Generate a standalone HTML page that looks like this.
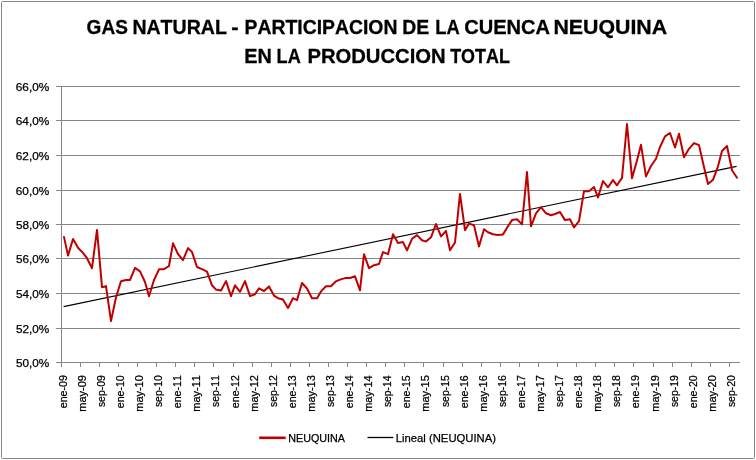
<!DOCTYPE html>
<html lang="es"><head><meta charset="utf-8"><title>GAS NATURAL - PARTICIPACION DE LA CUENCA NEUQUINA</title>
<style>
html,body{margin:0;padding:0;background:#fff;}
svg{display:block;font-family:"Liberation Sans",sans-serif;font-kerning:none;}
.t{font-weight:bold;font-size:20.8px;fill:#000;stroke:#000;stroke-width:0.3px;}
.l{font-size:11.3px;fill:#000;stroke:#000;stroke-width:0.25px;}
</style></head><body>
<svg width="756" height="460" viewBox="0 0 756 460">
<rect x="0" y="0" width="756" height="460" fill="#fff"/>
<rect x="1.5" y="1.5" width="753" height="457" rx="1" fill="none" stroke="#868686" stroke-width="1"/>
<text class="t" y="33.8"><tspan x="86.62" textLength="41.22" lengthAdjust="spacingAndGlyphs">GAS</tspan> <tspan x="132.39" textLength="94.51" lengthAdjust="spacingAndGlyphs">NATURAL</tspan> <tspan x="231.24" textLength="7.34" lengthAdjust="spacingAndGlyphs">-</tspan> <tspan x="244.50" textLength="152.90" lengthAdjust="spacingAndGlyphs">PARTICIPACION</tspan> <tspan x="402.20" textLength="26.96" lengthAdjust="spacingAndGlyphs">DE</tspan> <tspan x="435.17" textLength="24.52" lengthAdjust="spacingAndGlyphs">LA</tspan> <tspan x="464.18" textLength="85.95" lengthAdjust="spacingAndGlyphs">CUENCA</tspan> <tspan x="553.47" textLength="113.69" lengthAdjust="spacingAndGlyphs">NEUQUINA</tspan></text>
<text class="t" y="62.5"><tspan x="244.17" textLength="27.56" lengthAdjust="spacingAndGlyphs">EN</tspan> <tspan x="276.59" textLength="24.19" lengthAdjust="spacingAndGlyphs">LA</tspan> <tspan x="307.45" textLength="138.22" lengthAdjust="spacingAndGlyphs">PRODUCCION</tspan> <tspan x="450.20" textLength="59.65" lengthAdjust="spacingAndGlyphs">TOTAL</tspan></text>
<g stroke="#868686" stroke-width="1" fill="none" shape-rendering="crispEdges">
<line x1="56" y1="86.5" x2="740" y2="86.5"/>
<line x1="56" y1="120.5" x2="740" y2="120.5"/>
<line x1="56" y1="155.5" x2="740" y2="155.5"/>
<line x1="56" y1="190.5" x2="740" y2="190.5"/>
<line x1="56" y1="224.5" x2="740" y2="224.5"/>
<line x1="56" y1="258.5" x2="740" y2="258.5"/>
<line x1="56" y1="293.5" x2="740" y2="293.5"/>
<line x1="56" y1="328.5" x2="740" y2="328.5"/>
<line x1="56" y1="362.5" x2="740" y2="362.5"/>
<line x1="61.5" y1="86" x2="61.5" y2="363"/>
<line x1="61.5" y1="363" x2="61.5" y2="367"/>
<line x1="80.5" y1="363" x2="80.5" y2="367"/>
<line x1="99.5" y1="363" x2="99.5" y2="367"/>
<line x1="118.5" y1="363" x2="118.5" y2="367"/>
<line x1="137.5" y1="363" x2="137.5" y2="367"/>
<line x1="156.5" y1="363" x2="156.5" y2="367"/>
<line x1="175.5" y1="363" x2="175.5" y2="367"/>
<line x1="194.5" y1="363" x2="194.5" y2="367"/>
<line x1="213.5" y1="363" x2="213.5" y2="367"/>
<line x1="233.5" y1="363" x2="233.5" y2="367"/>
<line x1="252.5" y1="363" x2="252.5" y2="367"/>
<line x1="271.5" y1="363" x2="271.5" y2="367"/>
<line x1="290.5" y1="363" x2="290.5" y2="367"/>
<line x1="309.5" y1="363" x2="309.5" y2="367"/>
<line x1="328.5" y1="363" x2="328.5" y2="367"/>
<line x1="347.5" y1="363" x2="347.5" y2="367"/>
<line x1="366.5" y1="363" x2="366.5" y2="367"/>
<line x1="385.5" y1="363" x2="385.5" y2="367"/>
<line x1="404.5" y1="363" x2="404.5" y2="367"/>
<line x1="423.5" y1="363" x2="423.5" y2="367"/>
<line x1="443.5" y1="363" x2="443.5" y2="367"/>
<line x1="462.5" y1="363" x2="462.5" y2="367"/>
<line x1="481.5" y1="363" x2="481.5" y2="367"/>
<line x1="500.5" y1="363" x2="500.5" y2="367"/>
<line x1="519.5" y1="363" x2="519.5" y2="367"/>
<line x1="538.5" y1="363" x2="538.5" y2="367"/>
<line x1="557.5" y1="363" x2="557.5" y2="367"/>
<line x1="576.5" y1="363" x2="576.5" y2="367"/>
<line x1="595.5" y1="363" x2="595.5" y2="367"/>
<line x1="614.5" y1="363" x2="614.5" y2="367"/>
<line x1="633.5" y1="363" x2="633.5" y2="367"/>
<line x1="653.5" y1="363" x2="653.5" y2="367"/>
<line x1="672.5" y1="363" x2="672.5" y2="367"/>
<line x1="691.5" y1="363" x2="691.5" y2="367"/>
<line x1="710.5" y1="363" x2="710.5" y2="367"/>
<line x1="729.5" y1="363" x2="729.5" y2="367"/>
</g>
<text class="l" x="15.80" y="91.3" textLength="33.52" lengthAdjust="spacingAndGlyphs">66,0%</text>
<text class="l" x="15.80" y="125.3" textLength="33.52" lengthAdjust="spacingAndGlyphs">64,0%</text>
<text class="l" x="15.80" y="160.3" textLength="33.52" lengthAdjust="spacingAndGlyphs">62,0%</text>
<text class="l" x="15.80" y="195.3" textLength="33.52" lengthAdjust="spacingAndGlyphs">60,0%</text>
<text class="l" x="15.93" y="229.3" textLength="33.39" lengthAdjust="spacingAndGlyphs">58,0%</text>
<text class="l" x="15.93" y="263.3" textLength="33.39" lengthAdjust="spacingAndGlyphs">56,0%</text>
<text class="l" x="15.93" y="298.3" textLength="33.39" lengthAdjust="spacingAndGlyphs">54,0%</text>
<text class="l" x="15.93" y="333.3" textLength="33.39" lengthAdjust="spacingAndGlyphs">52,0%</text>
<text class="l" x="15.93" y="367.3" textLength="33.39" lengthAdjust="spacingAndGlyphs">50,0%</text>
<text class="l" transform="translate(67.3,408.15) rotate(-90)" textLength="32.95" lengthAdjust="spacingAndGlyphs">ene-09</text>
<text class="l" transform="translate(86.3,411.73) rotate(-90)" textLength="36.55" lengthAdjust="spacingAndGlyphs">may-09</text>
<text class="l" transform="translate(105.3,407.09) rotate(-90)" textLength="31.88" lengthAdjust="spacingAndGlyphs">sep-09</text>
<text class="l" transform="translate(124.3,408.15) rotate(-90)" textLength="32.86" lengthAdjust="spacingAndGlyphs">ene-10</text>
<text class="l" transform="translate(143.3,411.73) rotate(-90)" textLength="36.45" lengthAdjust="spacingAndGlyphs">may-10</text>
<text class="l" transform="translate(162.3,407.09) rotate(-90)" textLength="31.80" lengthAdjust="spacingAndGlyphs">sep-10</text>
<text class="l" transform="translate(181.3,408.15) rotate(-90)" textLength="32.97" lengthAdjust="spacingAndGlyphs">ene-11</text>
<text class="l" transform="translate(200.3,411.73) rotate(-90)" textLength="36.56" lengthAdjust="spacingAndGlyphs">may-11</text>
<text class="l" transform="translate(219.3,407.09) rotate(-90)" textLength="31.90" lengthAdjust="spacingAndGlyphs">sep-11</text>
<text class="l" transform="translate(239.3,408.15) rotate(-90)" textLength="32.98" lengthAdjust="spacingAndGlyphs">ene-12</text>
<text class="l" transform="translate(258.3,411.73) rotate(-90)" textLength="36.58" lengthAdjust="spacingAndGlyphs">may-12</text>
<text class="l" transform="translate(277.3,407.09) rotate(-90)" textLength="31.92" lengthAdjust="spacingAndGlyphs">sep-12</text>
<text class="l" transform="translate(296.3,408.15) rotate(-90)" textLength="32.91" lengthAdjust="spacingAndGlyphs">ene-13</text>
<text class="l" transform="translate(315.3,411.73) rotate(-90)" textLength="36.51" lengthAdjust="spacingAndGlyphs">may-13</text>
<text class="l" transform="translate(334.3,407.09) rotate(-90)" textLength="31.85" lengthAdjust="spacingAndGlyphs">sep-13</text>
<text class="l" transform="translate(353.3,408.15) rotate(-90)" textLength="32.76" lengthAdjust="spacingAndGlyphs">ene-14</text>
<text class="l" transform="translate(372.3,411.72) rotate(-90)" textLength="36.34" lengthAdjust="spacingAndGlyphs">may-14</text>
<text class="l" transform="translate(391.3,407.09) rotate(-90)" textLength="31.69" lengthAdjust="spacingAndGlyphs">sep-14</text>
<text class="l" transform="translate(410.3,408.15) rotate(-90)" textLength="32.89" lengthAdjust="spacingAndGlyphs">ene-15</text>
<text class="l" transform="translate(429.3,411.73) rotate(-90)" textLength="36.49" lengthAdjust="spacingAndGlyphs">may-15</text>
<text class="l" transform="translate(449.3,407.09) rotate(-90)" textLength="31.83" lengthAdjust="spacingAndGlyphs">sep-15</text>
<text class="l" transform="translate(468.3,408.15) rotate(-90)" textLength="32.91" lengthAdjust="spacingAndGlyphs">ene-16</text>
<text class="l" transform="translate(487.3,411.73) rotate(-90)" textLength="36.51" lengthAdjust="spacingAndGlyphs">may-16</text>
<text class="l" transform="translate(506.3,407.09) rotate(-90)" textLength="31.85" lengthAdjust="spacingAndGlyphs">sep-16</text>
<text class="l" transform="translate(525.3,408.15) rotate(-90)" textLength="32.98" lengthAdjust="spacingAndGlyphs">ene-17</text>
<text class="l" transform="translate(544.3,411.73) rotate(-90)" textLength="36.58" lengthAdjust="spacingAndGlyphs">may-17</text>
<text class="l" transform="translate(563.3,407.09) rotate(-90)" textLength="31.92" lengthAdjust="spacingAndGlyphs">sep-17</text>
<text class="l" transform="translate(582.3,408.15) rotate(-90)" textLength="32.91" lengthAdjust="spacingAndGlyphs">ene-18</text>
<text class="l" transform="translate(601.3,411.73) rotate(-90)" textLength="36.50" lengthAdjust="spacingAndGlyphs">may-18</text>
<text class="l" transform="translate(620.3,407.09) rotate(-90)" textLength="31.84" lengthAdjust="spacingAndGlyphs">sep-18</text>
<text class="l" transform="translate(639.3,408.15) rotate(-90)" textLength="32.95" lengthAdjust="spacingAndGlyphs">ene-19</text>
<text class="l" transform="translate(659.3,411.73) rotate(-90)" textLength="36.55" lengthAdjust="spacingAndGlyphs">may-19</text>
<text class="l" transform="translate(678.3,407.09) rotate(-90)" textLength="31.88" lengthAdjust="spacingAndGlyphs">sep-19</text>
<text class="l" transform="translate(697.3,408.15) rotate(-90)" textLength="32.86" lengthAdjust="spacingAndGlyphs">ene-20</text>
<text class="l" transform="translate(716.3,411.73) rotate(-90)" textLength="36.45" lengthAdjust="spacingAndGlyphs">may-20</text>
<text class="l" transform="translate(735.3,407.09) rotate(-90)" textLength="31.80" lengthAdjust="spacingAndGlyphs">sep-20</text>
<line x1="63.6" y1="306.6" x2="736.6" y2="166.4" stroke="#000" stroke-width="1.1"/>
<polyline points="64,236.9 68,255.6 73,239.0 78,247.7 83,252.9 87,258.2 92,268.2 97,229.9 102,287.2 106,286.1 111,321.1 116,297.3 121,281.3 126,280.0 130,280.0 135,267.9 140,271.3 145,282.0 149,296.3 154,280.0 159,269.3 164,269.2 169,266.0 173,243.3 178,254.0 183,260.2 188,248.1 192,252.0 197,267.0 202,269.2 207,271.7 212,285.3 216,289.6 221,290.5 226,281.1 231,296.1 235,285.3 240,291.8 245,281.1 250,296.1 255,294.2 259,288.4 264,291.0 269,286.4 274,295.6 278,298.2 283,299.5 288,308.0 293,298.2 297,300.1 302,283.0 307,288.5 312,298.3 317,298.3 321,291.4 326,286.2 331,286.2 336,281.3 340,279.6 345,278.1 350,278.0 355,276.3 360,290.3 364,254.2 369,268.2 374,265.2 379,264.0 383,252.1 388,254.2 393,234.3 398,243.0 403,242.1 407,250.3 412,238.8 417,235.1 422,240.3 426,241.6 431,237.3 436,224.0 441,236.4 446,231.0 450,250.3 455,242.5 460,193.9 465,230.2 469,223.6 474,225.3 479,246.4 484,229.2 488,232.3 493,234.2 498,235.1 503,234.4 508,226.3 512,220.1 517,219.2 522,224.4 527,172.0 531,226.3 536,213.3 541,207.2 546,213.3 551,215.3 555,214.0 560,212.0 565,220.1 570,219.3 574,227.4 579,221.2 584,191.2 589,191.2 594,187.0 598,197.4 603,181.0 608,187.3 613,180.1 617,185.3 622,177.9 627,124.0 632,178.3 637,160.6 641,144.8 646,176.4 651,166.0 656,158.8 660,147.0 665,136.3 670,133.0 675,147.5 679,133.8 684,157.3 689,148.8 694,143.1 699,145.1 703,162.8 708,184.0 713,179.8 718,166.3 722,151.0 727,146.0 732,170.3 737,177.7" fill="none" stroke="#c00000" stroke-width="2.0" stroke-linejoin="round" stroke-linecap="round"/>
<line x1="259.2" y1="437.8" x2="285.7" y2="437.8" stroke="#c00000" stroke-width="2.6"/>
<text class="l" x="288.22" y="442" textLength="56.70" lengthAdjust="spacingAndGlyphs">NEUQUINA</text>
<line x1="367.5" y1="437.5" x2="393.3" y2="437.5" stroke="#000" stroke-width="1.3"/>
<text class="l" x="395.78" y="442" textLength="100.22" lengthAdjust="spacingAndGlyphs">Lineal (NEUQUINA)</text>
</svg></body></html>
